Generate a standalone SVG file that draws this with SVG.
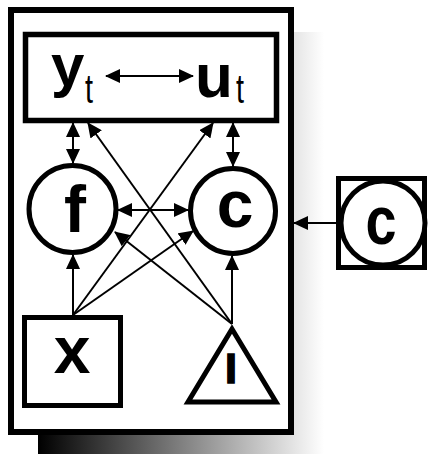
<svg xmlns="http://www.w3.org/2000/svg" width="428" height="454" viewBox="0 0 428 454">
<defs>
<linearGradient id="shadowGrad" gradientUnits="userSpaceOnUse" x1="38" y1="0" x2="324" y2="0">
<stop offset="0" stop-color="#000"/>
<stop offset="1" stop-color="#fff"/>
</linearGradient>
<marker id="ah" markerUnits="userSpaceOnUse" markerWidth="16" markerHeight="14" refX="14" refY="7" orient="auto-start-reverse">
<path d="M0,0 L15,7 L0,14 z" fill="#000"/>
</marker>
</defs>
<style>
.box{fill:#fff;stroke:#000;stroke-width:5.5}
.frame{fill:#fff;stroke:#000;stroke-width:6}
.node{fill:#fff;stroke:#000;stroke-width:5}
.conn{stroke:#000;stroke-width:2;fill:none}
.big{font-family:"Liberation Sans",Arial,sans-serif;font-weight:bold;fill:#000}
.sub{font-family:"Liberation Sans",Arial,sans-serif;font-weight:normal;fill:#000}
</style>
<rect x="38" y="32" width="286" height="430" fill="url(#shadowGrad)"/>
<g id="frame">
<rect class="frame" x="11" y="10" width="280" height="422"/>
</g>
<g id="state">
<rect class="box" x="25.5" y="34.5" width="251" height="86"/>
<text class="big" x="51" y="86" font-size="60">y</text>
<text class="sub" transform="translate(85,103) scale(0.8,1.15)" x="0" y="0" font-size="36">t</text>
<text class="big" x="195" y="97" font-size="62">u</text>
<text class="sub" transform="translate(236,103) scale(0.8,1.15)" x="0" y="0" font-size="36">t</text>
</g>
<g id="f">
<circle class="node" cx="72.5" cy="209" r="43.5"/>
<text class="big" x="75" y="232" font-size="66" text-anchor="middle">f</text>
</g>
<g id="c">
<circle class="node" cx="233" cy="211" r="42.5"/>
<text class="big" x="235" y="227" font-size="66" text-anchor="middle">c</text>
</g>
<g id="x">
<rect class="node" x="24.5" y="317.5" width="96" height="88"/>
<text class="big" x="72" y="373" font-size="66" text-anchor="middle">x</text>
</g>
<g id="I">
<polygon class="node" stroke-width="6" points="232,329 188,402 276,402"/>
<text class="big" x="231" y="383" font-size="43" text-anchor="middle" stroke="#000" stroke-width="1.5">I</text>
</g>
<g id="cext">
<rect class="node" x="338.5" y="178.5" width="86" height="89"/>
<circle class="node" cx="383" cy="223" r="42"/>
<text class="big" transform="translate(381,244) scale(0.82,1)" x="0" y="0" font-size="68" text-anchor="middle">c</text>
</g>
<g id="connectors">
<line class="conn" x1="106" y1="76" x2="193" y2="76" marker-start="url(#ah)" marker-end="url(#ah)"/>
<line class="conn" x1="73" y1="123" x2="73" y2="163" marker-start="url(#ah)" marker-end="url(#ah)"/>
<line class="conn" x1="233" y1="123" x2="233" y2="166" marker-start="url(#ah)" marker-end="url(#ah)"/>
<line class="conn" x1="118" y1="210" x2="188" y2="210" marker-start="url(#ah)" marker-end="url(#ah)"/>
<line class="conn" x1="73" y1="315" x2="73" y2="255" marker-end="url(#ah)"/>
<line class="conn" x1="232" y1="324" x2="232" y2="256" marker-end="url(#ah)"/>
<line class="conn" x1="73" y1="315" x2="193" y2="231" marker-end="url(#ah)"/>
<line class="conn" x1="73" y1="315" x2="213" y2="123" marker-end="url(#ah)"/>
<line class="conn" x1="232" y1="324" x2="115" y2="232" marker-end="url(#ah)"/>
<line class="conn" x1="232" y1="324" x2="88" y2="123" marker-end="url(#ah)"/>
<line class="conn" x1="336" y1="223" x2="294" y2="223" marker-end="url(#ah)"/>
</g>
</svg>
